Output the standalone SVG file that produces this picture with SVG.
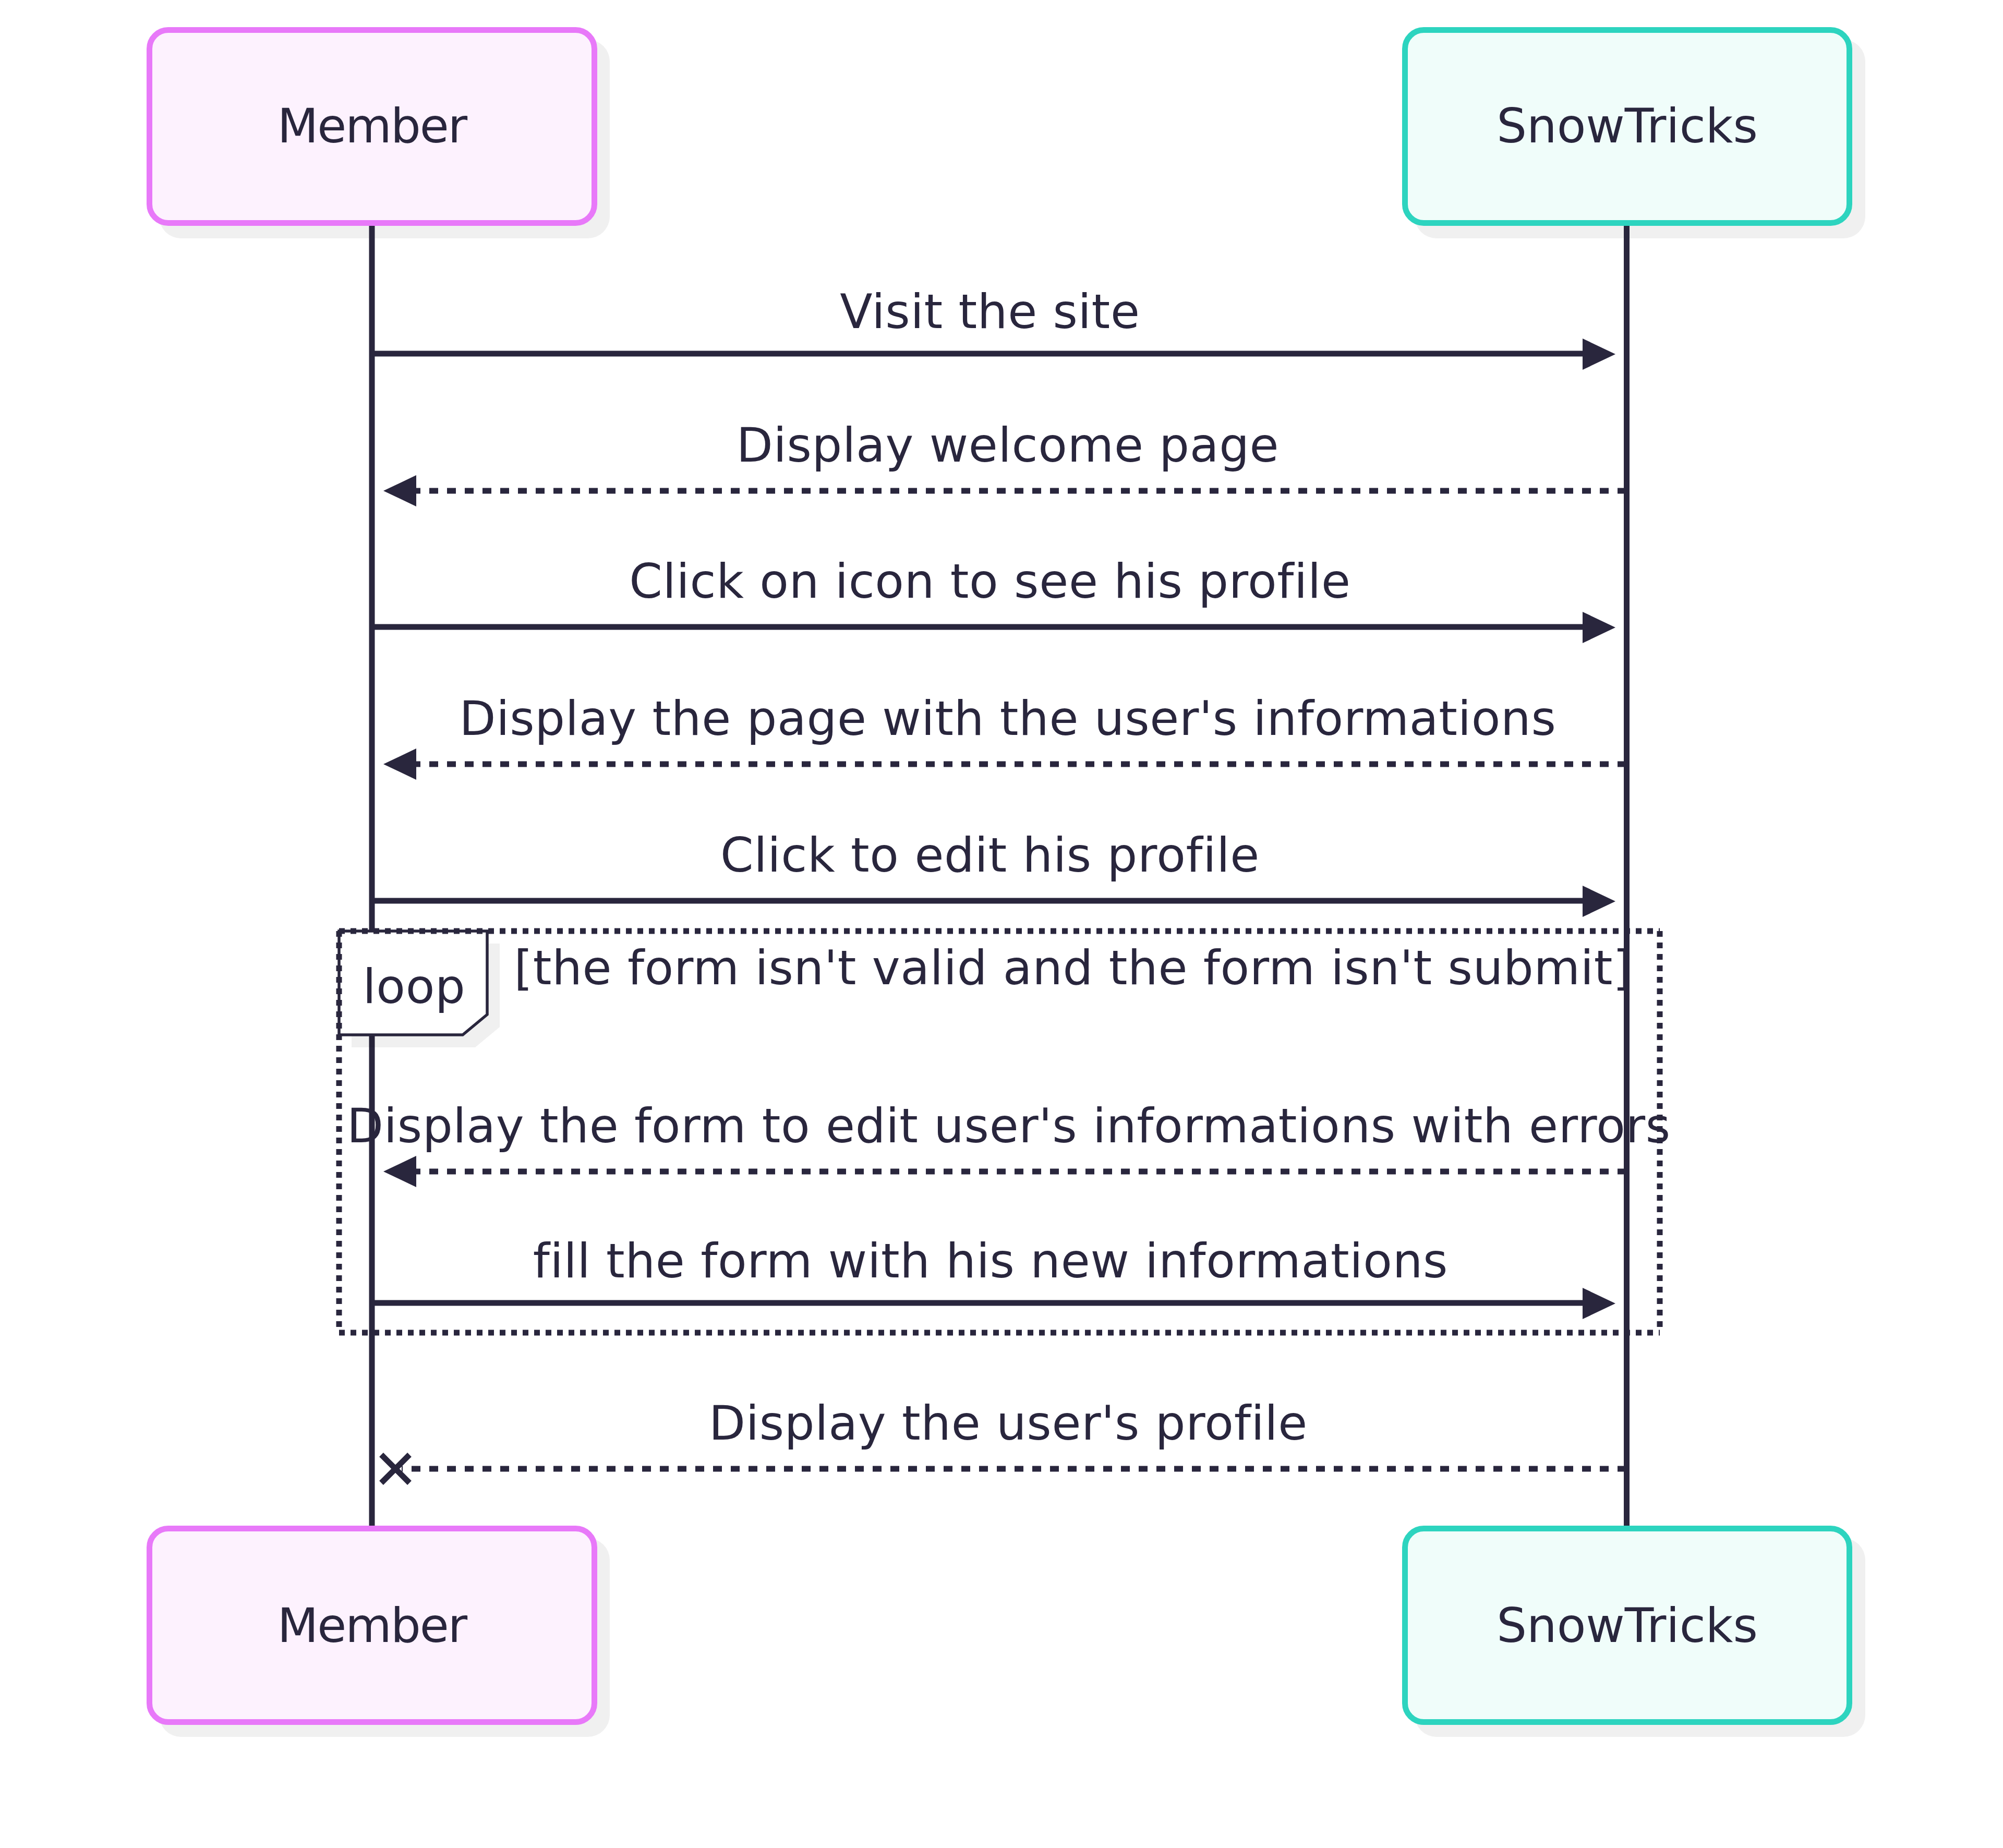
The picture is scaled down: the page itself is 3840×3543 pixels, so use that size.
<svg xmlns="http://www.w3.org/2000/svg" width="3840" height="3543" viewBox="0 0 3840 3543">
<defs>
<style>
.txt{font-family:"DejaVu Sans","Noto Sans",sans-serif;font-size:91px;fill:#29263d;letter-spacing:0.7px;}
.actor{letter-spacing:0px;}
.mid{text-anchor:middle;}
.shadow{fill:#f0f0f0;stroke:none;}
.member{fill:#fdf2fe;stroke:#e879f9;stroke-width:11;}
.snow{fill:#f0fdfa;stroke:#2dd4bf;stroke-width:11;}
.life{stroke:#29263d;stroke-width:11;}
.msg{stroke:#29263d;stroke-width:11;fill:none;}
.dash{stroke-dasharray:17 17;}
.head{fill:#29263d;}
.loopline{stroke:#29263d;stroke-width:11;stroke-dasharray:11 11;fill:none;}
.labelbox{fill:#ffffff;stroke:#29263d;stroke-width:5.5;}
</style>
</defs>
<rect width="3840" height="3543" fill="#ffffff"/>
<g id="shadows">
<rect class="shadow" x="305" y="76" width="864" height="381" rx="42"/>
<rect class="shadow" x="2712" y="76" width="864" height="381" rx="42"/>
<rect class="shadow" x="305" y="2949" width="864" height="381" rx="42"/>
<rect class="shadow" x="2712" y="2949" width="864" height="381" rx="42"/>
</g>
<g id="lifelines">
<line class="life" x1="713" y1="433" x2="713" y2="2925"/>
<line class="life" x1="3118.5" y1="433" x2="3118.5" y2="2925"/>
</g>
<g id="member-top">
<rect class="member" x="286.5" y="57.5" width="853" height="370" rx="36"/>
<text class="txt actor mid" x="713" y="273" style="letter-spacing:-2px">Member</text>
</g>
<g id="snowtricks-top">
<rect class="snow" x="2693.5" y="57.5" width="852" height="370" rx="36"/>
<text class="txt actor mid" x="3119.5" y="273">SnowTricks</text>
</g>
<g id="member-bottom">
<rect class="member" x="286.5" y="2930.5" width="853" height="371" rx="36"/>
<text class="txt actor mid" x="713" y="3148" style="letter-spacing:-2px">Member</text>
</g>
<g id="snowtricks-bottom">
<rect class="snow" x="2693.5" y="2930.5" width="852" height="371" rx="36"/>
<text class="txt actor mid" x="3119.5" y="3148">SnowTricks</text>
</g>
<g id="loop">
<path d="M674,1809 H958 V1969 L911,2008 H674 Z" fill="#000000" fill-opacity="0.06"/>
<path class="labelbox" d="M650,1785 H934 V1945 L887,1984 H650 Z"/>
<path class="loopline" d="M650,1785 H3182 M3182,1785 V2555 M650,2555 H3182 M650,1785 V2555"/>
<text class="txt mid" x="794" y="1923">loop</text>
<text class="txt mid" x="2057" y="1887">[the form isn't valid and the form isn't submit]</text>
</g>
<g id="connectors">
<line class="msg" x1="713" y1="678" x2="3040" y2="678"/>
<polygon class="head" points="3097,679 3034,649 3034,709"/>
<line class="msg dash" x1="3118" y1="941" x2="795" y2="941"/>
<polygon class="head" points="735,941 798,911 798,971"/>
<line class="msg" x1="713" y1="1202" x2="3040" y2="1202"/>
<polygon class="head" points="3097,1203 3034,1173 3034,1233"/>
<line class="msg dash" x1="3118" y1="1465" x2="795" y2="1465"/>
<polygon class="head" points="735,1465 798,1435 798,1495"/>
<line class="msg" x1="713" y1="1727" x2="3040" y2="1727"/>
<polygon class="head" points="3097,1728 3034,1698 3034,1758"/>
<line class="msg dash" x1="3118" y1="2246" x2="795" y2="2246"/>
<polygon class="head" points="735,2246 798,2216 798,2276"/>
<line class="msg" x1="713" y1="2498" x2="3040" y2="2498"/>
<polygon class="head" points="3097,2499 3034,2469 3034,2529"/>
<line class="msg dash" x1="3118" y1="2816" x2="770" y2="2816"/>
<path class="msg" d="M731,2789 L785,2843 M785,2789 L731,2843" stroke-width="13"/>
</g>
<g id="labels">
<text class="txt mid" x="1898" y="629">Visit the site</text>
<text class="txt mid" x="1932" y="885">Display welcome page</text>
<text class="txt mid" x="1898" y="1146">Click on icon to see his profile</text>
<text class="txt mid" x="1932" y="1409">Display the page with the user's informations</text>
<text class="txt mid" x="1898" y="1671">Click to edit his profile</text>
<text class="txt mid" x="1934" y="2190">Display the form to edit user's informations with errors</text>
<text class="txt mid" x="1899" y="2449">fill the form with his new informations</text>
<text class="txt mid" x="1933" y="2760">Display the user's profile</text>
</g>
</svg>
